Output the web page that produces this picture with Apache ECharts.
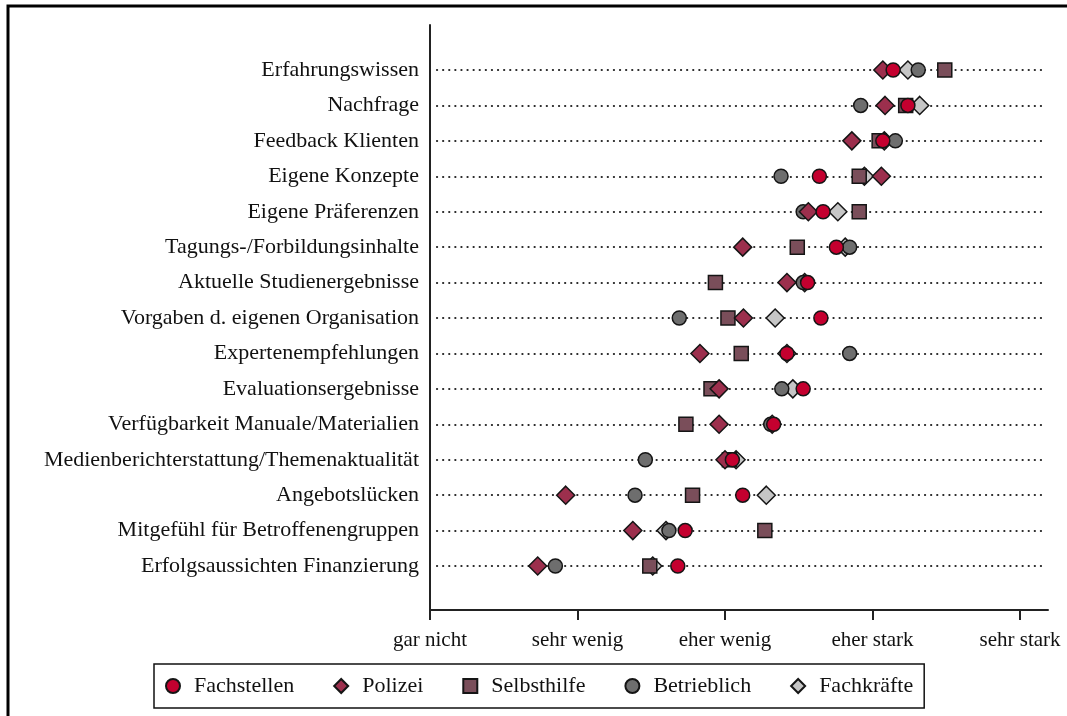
<!DOCTYPE html>
<html>
<head>
<meta charset="utf-8">
<title>Einflussfaktoren</title>
<script src="https://cdn.jsdelivr.net/npm/echarts@6/dist/echarts.min.js"></script>
<style>
  html, body { margin: 0; padding: 0; background: #fff; }
  #chart { width: 1067px; height: 716px; }
</style>
</head>
<body>
<div id="chart"></div>
<script>
// Kategorien (von oben nach unten)
const categories = [
  'Erfahrungswissen',
  'Nachfrage',
  'Feedback Klienten',
  'Eigene Konzepte',
  'Eigene Präferenzen',
  'Tagungs-/Forbildungsinhalte',
  'Aktuelle Studienergebnisse',
  'Vorgaben d. eigenen Organisation',
  'Expertenempfehlungen',
  'Evaluationsergebnisse',
  'Verfügbarkeit Manuale/Materialien',
  'Medienberichterstattung/Themenaktualität',
  'Angebotslücken',
  'Mitgefühl für Betroffenengruppen',
  'Erfolgsaussichten Finanzierung'
]

// Skala 1 = gar nicht ... 5 = sehr stark
const scaleLabels = ['gar nicht', 'sehr wenig', 'eher wenig', 'eher stark', 'sehr stark']
const scaleTicks = [1, 2, 3, 4, 5]

// Mittelwerte je Gruppe
const fachstellen = [4.14, 4.24, 4.07, 3.64, 3.665, 3.755, 3.56, 3.65, 3.42, 3.53, 3.33, 3.05, 3.12, 2.73, 2.68]
const polizei     = [4.07, 4.085, 3.86, 4.06, 3.565, 3.12, 3.42, 3.125, 2.83, 2.96, 2.96, 3.00, 1.92, 2.375, 1.73]
const selbsthilfe = [4.49, 4.225, 4.045, 3.91, 3.91, 3.49, 2.935, 3.02, 3.11, 2.905, 2.735, 3.03, 2.78, 3.27, 2.49]
const betrieblich = [4.31, 3.92, 4.155, 3.38, 3.53, 3.845, 3.53, 2.69, 3.845, 3.385, 3.31, 2.46, 2.39, 2.62, 1.85]
const fachkraefte = [4.24, 4.32, 4.08, 3.945, 3.765, 3.815, 3.54, 3.34, 3.42, 3.46, 3.32, 3.075, 3.28, 2.60, 2.51]

const font = "'Liberation Serif', 'Times New Roman', serif"

// px je Skalenpunkt auf der x-Achse (430 -> 1, 1020 -> 5)
const unit = 147.5
const dotLeft = 437, dotRight = 1043

function toPoints(values) {
  return values.map((v, i) => [v, i])
}

function makeSeries(name, values, symbol, size, color, z) {
  return {
    name: name,
    type: 'scatter',
    xAxisIndex: 0,
    yAxisIndex: 0,
    data: toPoints(values),
    symbol: symbol,
    symbolSize: size,
    clip: false,
    z: z,
    itemStyle: { color: color, borderColor: '#151515', borderWidth: 1.5, opacity: 1 },
    emphasis: { disabled: true }
  }
}

const option = {
  backgroundColor: '#fff',
  animation: false,
  textStyle: { fontFamily: font },
  graphic: [
    // äußerer Rahmen (rechts und unten abgeschnitten)
    {
      type: 'rect',
      shape: { x: 8, y: 6, width: 1100, height: 800 },
      style: { fill: null, stroke: '#000', lineWidth: 3 },
      silent: true
    }
  ],
  legend: {
    left: 154,
    top: 664,
    orient: 'horizontal',
    padding: [11, 11, 11, 11],
    itemGap: 39,
    itemWidth: 14,
    itemHeight: 14,
    symbolKeepAspect: true,
    borderColor: '#111',
    borderWidth: 1.5,
    textStyle: { fontFamily: font, fontSize: 22, color: '#111', padding: [0, 0, 0, 9] },
    data: ['Fachstellen', 'Polizei', 'Selbsthilfe', 'Betrieblich', 'Fachkräfte']
  },
  grid: [
    // Datenbereich: Zeilen 0..14
    { left: dotLeft, right: 1067 - dotRight, top: 70, height: 14 * 35.43 },
    // Achsenrahmen
    { left: 430, right: 19, top: 25, bottom: 106 }
  ],
  xAxis: [
    {
      gridIndex: 0,
      type: 'value',
      min: 1 + (dotLeft - 430) / unit,
      max: 1 + (dotRight - 430) / unit,
      show: false
    },
    {
      gridIndex: 1,
      type: 'value',
      min: 1,
      max: 1 + (1048 - 430) / unit,
      axisLine: { show: true, lineStyle: { color: '#222', width: 2 } },
      axisTick: { show: true, length: 10, lineStyle: { color: '#222', width: 2 }, customValues: scaleTicks },
      axisLabel: {
        customValues: scaleTicks,
        margin: 20,
        fontFamily: font,
        fontSize: 21,
        color: '#111',
        formatter: v => scaleLabels[Math.round(v) - 1] || ''
      },
      splitLine: { show: false }
    }
  ],
  yAxis: [
    {
      gridIndex: 0,
      type: 'value',
      inverse: true,
      min: 0,
      max: 14,
      interval: 1,
      axisLine: { show: false },
      axisTick: { show: false },
      axisLabel: {
        margin: 18,
        fontFamily: font,
        fontSize: 22,
        color: '#111',
        formatter: v => categories[v] || ''
      },
      splitLine: {
        show: true,
        lineStyle: { color: '#222', width: 2.2, type: [0.1, 6], cap: 'round' }
      }
    },
    {
      gridIndex: 1,
      type: 'value',
      axisLine: { show: true, lineStyle: { color: '#222', width: 2 } },
      axisTick: { show: false },
      axisLabel: { show: false },
      splitLine: { show: false }
    }
  ],
  series: [
    makeSeries('Fachstellen', fachstellen, 'circle', 14, '#C4002F', 10),
    makeSeries('Polizei', polizei, 'diamond', 18, '#9C2F4D', 9),
    makeSeries('Selbsthilfe', selbsthilfe, 'rect', 14, '#7A4E5A', 8),
    makeSeries('Betrieblich', betrieblich, 'circle', 14, '#6E6E6E', 7),
    makeSeries('Fachkräfte', fachkraefte, 'diamond', 18, '#C6C6C6', 6)
  ]
}

const chart = echarts.init(document.getElementById('chart'))
chart.setOption(option)
</script>
</body>
</html>
